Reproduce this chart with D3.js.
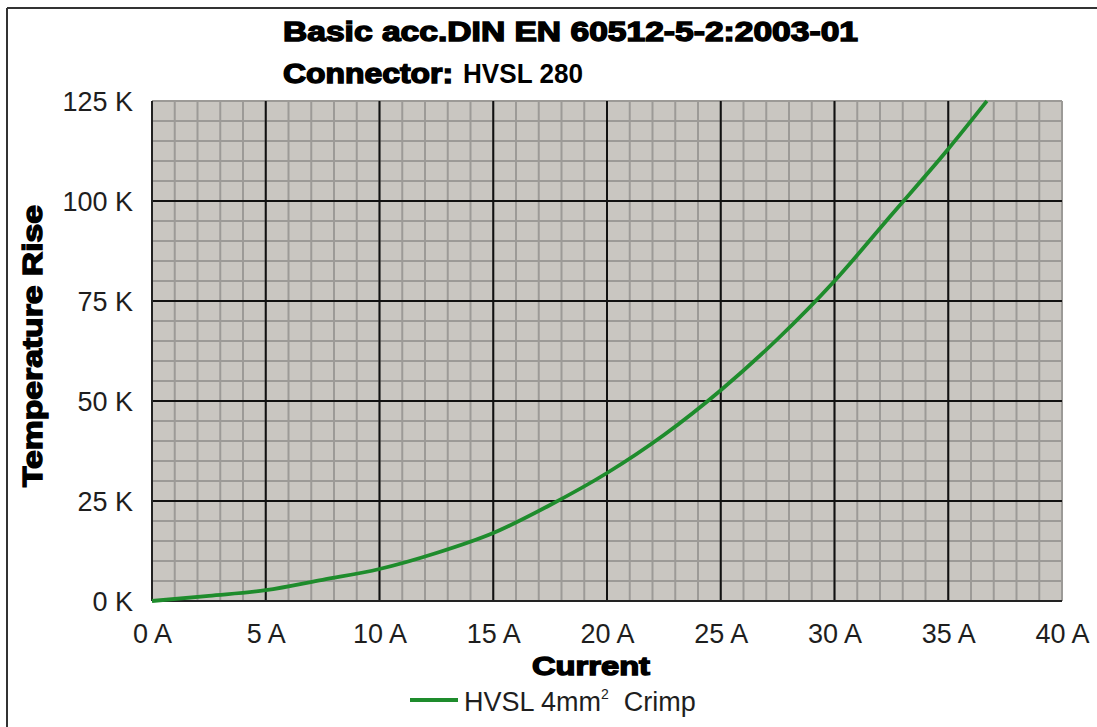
<!DOCTYPE html>
<html><head><meta charset="utf-8">
<script src="https://cdn.jsdelivr.net/npm/d3@7"></script>
<style>html,body{margin:0;padding:0;background:#fff;}svg{display:block;}</style>
</head><body>
<script>
// ---- data ----
const current = [0, 2.5, 5, 7.5, 10, 12.5, 15, 17.5, 20, 22.5, 25, 27.5, 30, 32.5, 35, 36.7];
const tempRise = [0, 1.3, 2.7, 5.3, 8, 12, 17, 24, 32, 41.5, 52.7, 65.5, 80, 96.5, 113, 125];
const xTicks = [0, 5, 10, 15, 20, 25, 30, 35, 40];
const yTicks = [0, 25, 50, 75, 100, 125];
const seriesNameA = "HVSL 4mm";
const seriesNameSup = "2";
const seriesNameB = "  Crimp";
const titleLine1 = "Basic acc.DIN EN 60512-5-2:2003-01";
const titleLine2a = "Connector:";
const titleLine2b = "HVSL 280";
const xTitle = "Current";
const yTitle = "Temperature Rise";

const W = 1097, H = 727;
const svg = d3.select("body").append("svg").attr("width", W).attr("height", H);

// frame
svg.append("line").attr("x1", 7).attr("x2", W).attr("y1", 8).attr("y2", 8).attr("stroke", "#333").attr("stroke-width", 2);
svg.append("line").attr("x1", 7).attr("x2", 7).attr("y1", 8).attr("y2", H).attr("stroke", "#333").attr("stroke-width", 2);

const L = 152, R = 1062, T = 101, B = 601;
const x = d3.scaleLinear().domain([0, 40]).range([L, R]);
const y = d3.scaleLinear().domain([0, 125]).range([B, T]);

svg.append("rect").attr("x", L).attr("y", T).attr("width", R - L).attr("height", B - T).attr("fill", "#c9c6c1");

// minor grid
const g = svg.append("g");
g.selectAll(".vx").data(d3.range(1, 41)).enter().append("line")
  .attr("x1", d => x(d)).attr("x2", d => x(d)).attr("y1", T).attr("y2", B)
  .attr("stroke", "#9c9a97").attr("stroke-width", 2);
g.selectAll(".hy").data(d3.range(5, 126, 5)).enter().append("line")
  .attr("y1", d => y(d)).attr("y2", d => y(d)).attr("x1", L).attr("x2", R)
  .attr("stroke", "#9c9a97").attr("stroke-width", 2);
g.append("line").attr("x1", L).attr("x2", R).attr("y1", T).attr("y2", T).attr("stroke", "#9c9a97").attr("stroke-width", 2);
// major grid
g.selectAll(".mx").data(xTicks.filter(d => d > 0 && d < 40)).enter().append("line")
  .attr("x1", d => x(d)).attr("x2", d => x(d)).attr("y1", T).attr("y2", B)
  .attr("stroke", "#111").attr("stroke-width", 2);
g.selectAll(".my").data(yTicks.filter(d => d > 0 && d < 125)).enter().append("line")
  .attr("y1", d => y(d)).attr("y2", d => y(d)).attr("x1", L).attr("x2", R)
  .attr("stroke", "#111").attr("stroke-width", 2);
g.append("line").attr("x1", L).attr("x2", L).attr("y1", T).attr("y2", B).attr("stroke", "#222").attr("stroke-width", 2);
g.append("line").attr("x1", L).attr("x2", R).attr("y1", B).attr("y2", B).attr("stroke", "#222").attr("stroke-width", 2);

// axes via d3
const xAxis = d3.axisBottom(x).tickValues(xTicks).tickFormat(d => d + " A").tickSize(0).tickPadding(0);
const xg = svg.append("g").attr("transform", `translate(0,${B})`).call(xAxis);
xg.select(".domain").remove();
xg.selectAll("text").attr("font-family", "Liberation Sans, Arial, sans-serif").attr("font-size", 27)
  .attr("fill", "#1e1e1e").attr("dy", null).attr("y", 42);

const yAxis = d3.axisLeft(y).tickValues(yTicks).tickFormat(d => d + " K").tickSize(0).tickPadding(0);
const yg = svg.append("g").attr("transform", `translate(${L},0)`).call(yAxis);
yg.select(".domain").remove();
yg.selectAll("text").attr("font-family", "Liberation Sans, Arial, sans-serif").attr("font-size", 27)
  .attr("fill", "#1e1e1e").attr("x", -19).attr("dy", "0.36em");

// curve
const line = d3.line().x((d, i) => x(current[i])).y((d, i) => y(tempRise[i])).curve(d3.curveMonotoneX);
svg.append("path").datum(tempRise).attr("d", line).attr("fill", "none")
  .attr("stroke", "#1e8c2c").attr("stroke-width", 3.8);

// titles
const heavy = (sel, sw) => sel.attr("font-family", "Liberation Sans, Arial, sans-serif").attr("font-weight", "bold")
  .attr("fill", "#000").attr("stroke", "#000").attr("stroke-width", sw || 1.4);
svg.append("text").text(titleLine1).attr("x", 283).attr("y", 41).attr("font-size", 27)
  .attr("textLength", 575).attr("lengthAdjust", "spacingAndGlyphs").call(heavy);
svg.append("text").text(titleLine2a).attr("x", 283).attr("y", 83).attr("font-size", 27)
  .attr("textLength", 170).attr("lengthAdjust", "spacingAndGlyphs").call(heavy);
svg.append("text").text(titleLine2b).attr("x", 463).attr("y", 83).attr("font-size", 27)
  .attr("font-family", "Liberation Sans, Arial, sans-serif").attr("font-weight", "bold").attr("fill", "#000")
  .attr("textLength", 120).attr("lengthAdjust", "spacingAndGlyphs");

svg.append("text").text(xTitle).attr("x", 591).attr("y", 675).attr("text-anchor", "middle").attr("font-size", 26)
  .attr("textLength", 118).attr("lengthAdjust", "spacingAndGlyphs").call(heavy);

svg.append("text").text(yTitle).attr("transform", "translate(42,346) rotate(-90)").attr("text-anchor", "middle")
  .attr("font-size", 27).attr("textLength", 282).attr("lengthAdjust", "spacingAndGlyphs").call(heavy);

// legend
svg.append("line").attr("x1", 410).attr("x2", 458).attr("y1", 700).attr("y2", 700)
  .attr("stroke", "#1e8c2c").attr("stroke-width", 4);
const lt = svg.append("text").attr("x", 464).attr("y", 711).attr("font-size", 27)
  .attr("font-family", "Liberation Sans, Arial, sans-serif").attr("fill", "#1e1e1e").attr("xml:space", "preserve")
  .style("white-space", "pre");
lt.append("tspan").text(seriesNameA);
lt.append("tspan").text(seriesNameSup).attr("font-size", 14).attr("dy", -12);
lt.append("tspan").text(seriesNameB).attr("dy", 12);
</script>
</body></html>
